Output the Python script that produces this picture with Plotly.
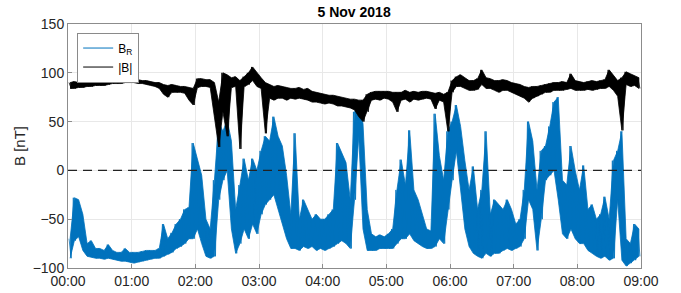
import numpy as np
import plotly.graph_objects as go

# 4-minute windows from 00:00 to 09:00 (135 windows); per window the max / min
window_minutes = 4
br_hi = [
    -70, -28, -30, -45, -75, -72, -80, -80, -82, -76, -82, -84, -84, -80, -84,
    -84, -84, -83, -82, -82, -82, -80, -55, -70, -64, -55, -50, -40, -38, 28,
    10, -5, -50, -60, -10, 50, 40, 52, 30, -40, -15, 12, -10, 12, 0,
    20, 35, 30, 55, 35, 25, -5, -45, 38, -50, -30, -40, -50, -45, -50,
    -50, -45, -40, 28, 18, 8, -30, 60, 67, 48, -40, -65, -68, -66, -68,
    -65, -60, -20, 11, -15, 41, -20, -30, -45, -60, -62, 58, 15, -10, 40,
    50, 67, 45, 10, -20, 4, -40, -20, 40, -45, -30, -35, -40, -30, -40,
    -55, -50, -20, 50, 30, -20, 20, 25, 45, 70, 75, -10, -15, 25, 0,
    -20, 5, -40, -35, -50, -45, -27, -50, 10, 20, 40, -70, -75, -55, -60,
]
br_lo = [
    -90, -72, -68, -82, -88, -89, -90, -90, -91, -90, -91, -92, -93, -93, -94,
    -95, -94, -93, -92, -91, -90, -90, -88, -86, -84, -80, -78, -75, -70, -70,
    -60, -75, -88, -90, -88, -30, -10, 0, -60, -85, -75, -60, -70, -55, -65,
    -45, -35, -30, -25, -40, -55, -70, -80, -80, -82, -78, -80, -78, -82, -80,
    -82, -80, -78, -75, -72, -75, -80, -30, 35, -60, -82, -82, -82, -80, -80,
    -80, -80, -75, -70, -70, -65, -72, -75, -78, -80, -80, -78, -70, -75, -40,
    -10, 20, -20, -60, -78, -85, -88, -90, -85, -88, -85, -85, -82, -80, -82,
    -80, -78, -70, -30, -40, -82, -50, -10, -5, 0, -30, -65, -70, -60, -70,
    -75, -75, -82, -85, -88, -90, -88, -92, -90, -30, -92, -98, -95, -92, -88,
]
bmag_hi = [
    90, 91, 90, 90, 90, 91, 91, 91, 92, 92, 93, 93, 93, 93, 93,
    93, 93, 92, 92, 91, 90, 90, 88, 87, 88, 87, 86, 86, 85, 84,
    94, 94, 93, 93, 90, 70, 100, 98, 95, 96, 92, 96, 100, 106, 100,
    95, 90, 88, 86, 87, 86, 85, 84, 84, 85, 83, 84, 81, 80, 79,
    78, 77, 77, 76, 75, 74, 73, 73, 72, 72, 78, 80, 81, 81, 81,
    81, 80, 80, 80, 82, 80, 81, 80, 81, 81, 80, 79, 80, 78, 80,
    92, 96, 98, 95, 92, 92, 94, 103, 95, 94, 92, 92, 93, 92, 90,
    89, 88, 86, 85, 86, 86, 87, 88, 89, 90, 90, 91, 90, 99, 92,
    91, 90, 91, 92, 91, 92, 93, 103, 97, 92, 95, 101, 99, 97, 95,
]
bmag_lo = [
    84, 84, 85, 85, 86, 86, 87, 87, 87, 88, 89, 89, 89, 90, 90,
    90, 89, 89, 88, 87, 86, 84, 78, 75, 80, 80, 80, 79, 72, 67,
    85, 86, 86, 85, 55, 24, 60, 35, 85, 86, 22, 86, 88, 92, 86,
    84, 38, 74, 72, 74, 74, 72, 74, 73, 74, 73, 72, 70, 70, 69,
    68, 69, 68, 66, 66, 65, 64, 62, 55, 50, 60, 72, 73, 72, 74,
    73, 70, 60, 72, 73, 70, 73, 72, 73, 74, 73, 63, 72, 70, 40,
    80, 86, 86, 84, 82, 82, 83, 88, 84, 84, 82, 80, 82, 82, 80,
    78, 76, 74, 70, 74, 76, 78, 80, 80, 82, 82, 82, 83, 84, 82,
    82, 82, 83, 82, 83, 84, 84, 86, 82, 76, 41, 88, 86, 87, 84,
]
x_tick_minutes = [0, 60, 120, 180, 240, 300, 360, 420, 480, 540]
x_tick_labels = ["00:00", "01:00", "02:00", "03:00", "04:00", "05:00",
                 "06:00", "07:00", "08:00", "09:00"]
y_ticks = [-100, -50, 0, 50, 100, 150]

t0 = np.arange(len(br_hi)) * window_minutes
tc = t0 + window_minutes / 2.0


def band(hi, lo):
    xs = list(tc) + list(tc[::-1])
    ys = list(hi) + list(lo[::-1])
    return xs, ys


def zigzag(hi, lo):
    xs, ys = [], []
    for t, h, l in zip(t0, hi, lo):
        xs += [t + window_minutes * 0.25, t + window_minutes * 0.75]
        ys += [h, l]
    return xs, ys


BLUE = "#0072BD"
FONT = "Liberation Sans, Arial, Helvetica, sans-serif"

fig = go.Figure()
for hi, lo, col in [(br_hi, br_lo, BLUE), (bmag_hi, bmag_lo, "#000000")]:
    xs, ys = band(hi, lo)
    fig.add_trace(go.Scatter(x=xs, y=ys, mode="lines", fill="toself",
                             fillcolor=col, line=dict(color=col, width=0.8),
                             showlegend=False, hoverinfo="skip"))
    zx, zy = zigzag(hi, lo)
    fig.add_trace(go.Scatter(x=zx, y=zy, mode="lines", showlegend=False,
                             line=dict(color=col, width=0.8), hoverinfo="skip"))

# legend entries
fig.add_trace(go.Scatter(x=[None], y=[None], mode="lines", name="B<sub>R</sub>",
                         line=dict(color=BLUE, width=1)))
fig.add_trace(go.Scatter(x=[None], y=[None], mode="lines", name="|B|",
                         line=dict(color="black", width=1)))

fig.add_shape(type="line", xref="paper", yref="y", x0=0, x1=1, y0=0, y1=0,
              line=dict(color="#222222", width=1.2, dash="9px,6px"), layer="above")

fig.update_layout(
    width=681, height=293,
    margin=dict(l=68, r=40, t=24, b=25, autoexpand=False),
    paper_bgcolor="white", plot_bgcolor="white",
    font=dict(family=FONT, size=14, color="#262626"),
    title=dict(text="<b>5 Nov 2018</b>", x=0.52, xanchor="center",
               y=0.975, yanchor="top", font=dict(size=14, color="#000000")),
    showlegend=True,
    legend=dict(x=0.016, y=0.965, xanchor="left", yanchor="top",
                bgcolor="white", bordercolor="#8a8a8a", borderwidth=1,
                font=dict(size=12, color="#000000"), tracegroupgap=0,
                itemwidth=30),
)
fig.update_xaxes(range=[0, 540], tickvals=x_tick_minutes, ticktext=x_tick_labels,
                 showgrid=True, gridcolor="#e8e8e8", gridwidth=1, automargin=False,
                 showline=True, linecolor="#8c8c8c", linewidth=1, mirror=True,
                 ticks="inside", ticklen=4, tickcolor="#8c8c8c",
                 zeroline=False, tickfont=dict(size=14))
fig.update_yaxes(range=[-100, 150], tickvals=y_ticks,
                 showgrid=True, gridcolor="#e8e8e8", gridwidth=1, automargin=False,
                 showline=True, linecolor="#8c8c8c", linewidth=1, mirror=True,
                 ticks="inside", ticklen=4, tickcolor="#8c8c8c",
                 zeroline=False, tickfont=dict(size=14),
                 title=dict(text="B [nT]", font=dict(size=15), standoff=3))

fig.write_html("out.html", config={"displayModeBar": False},
               post_script="document.body.style.margin='0';document.body.style.overflow='hidden';")
